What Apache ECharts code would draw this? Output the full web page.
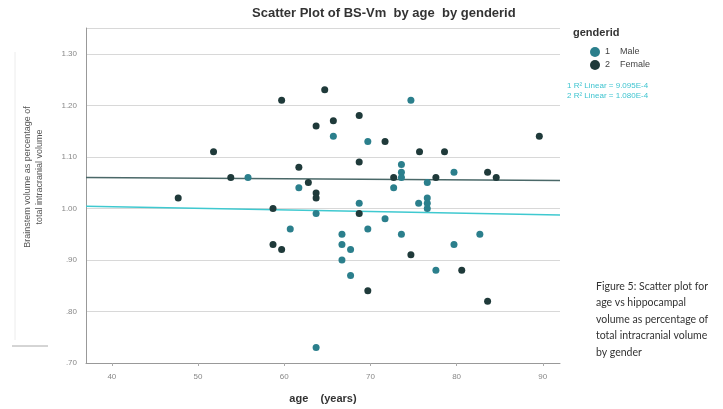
<!DOCTYPE html>
<html><head><meta charset="utf-8">
<script src="https://cdn.jsdelivr.net/npm/echarts@6/dist/echarts.min.js"></script>
<style>html,body{margin:0;padding:0;background:#fff}#c{width:723px;height:409px}</style>
</head><body><div id="c"></div>
<script>
// Data (age in years, brainstem volume %)
const maleAge = [55.8,61.7,60.7,63.7,65.7,66.7,66.7,66.7,67.7,67.7,63.7,68.7,69.7,69.7,71.7,72.7,73.6,73.6,73.6,73.6,74.7,75.6,76.6,76.6,76.6,76.6,77.6,79.7,79.7,82.7];
const maleVal = [1.06,1.04,0.96,0.99,1.14,0.95,0.93,0.90,0.92,0.87,0.73,1.01,1.13,0.96,0.98,1.04,1.085,1.07,1.06,0.95,1.21,1.01,1.05,1.02,1.01,1.00,0.88,1.07,0.93,0.95];
const femaleAge = [47.7,51.8,53.8,58.7,58.7,59.7,59.7,61.7,62.8,63.7,63.7,63.7,64.7,65.7,68.7,68.7,68.7,69.7,71.7,72.7,74.7,75.7,77.6,78.6,80.6,83.6,84.6,83.6,89.6];
const femaleVal = [1.02,1.11,1.06,1.00,0.93,0.92,1.21,1.08,1.05,1.03,1.02,1.16,1.23,1.17,1.18,1.09,0.99,0.84,1.13,1.06,0.91,1.11,1.06,1.11,0.88,1.07,1.06,0.82,1.14];
const maleFitX = [37, 92];
const maleFitY = [1.004, 0.987];
const femaleFitX = [37, 92];
const femaleFitY = [1.060, 1.054];
const xTicks = [40, 50, 60, 70, 80, 90];
const yTicks = [0.7, 0.8, 0.9, 1.0, 1.1, 1.2, 1.3];
const fitLabels = ['1 R\u00b2 Linear = 9.095E-4', '2 R\u00b2 Linear = 1.080E-4'];
const captionLines = ['Figure 5: Scatter plot for', 'age vs hippocampal', 'volume as percentage of', 'total intracranial volume', 'by gender'];
const yTitle = 'Brainstem volume as percentage of\ntotal intracranial volume';

const zip = (a, b) => a.map((v, i) => [v, b[i]]);
const maleColor = '#2b7f8c', femaleColor = '#1f3a3a';
const chart = echarts.init(document.getElementById('c'));
const fmtY = v => { const s = v.toFixed(2); return v < 1 ? s.slice(1) : s; };
chart.setOption({
  animation: false,
  textStyle: {fontFamily: 'Liberation Sans, Arial, sans-serif'},
  title: {text: 'Scatter Plot of BS-Vm  by age  by genderid', left: 247, top: 2,
    textStyle: {fontSize: 13, fontWeight: 'bold', color: '#333'}},
  grid: {left: 86, right: 163, top: 28, bottom: 44},
  xAxis: {type: 'value', min: 37, max: 92,
    name: 'age    (years)', nameLocation: 'middle', nameGap: 30,
    nameTextStyle: {fontSize: 11, fontWeight: 'bold', color: '#333'},
    axisLine: {lineStyle: {color: '#999'}},
    axisTick: {show: true, customValues: xTicks, length: 3, lineStyle: {color: '#aaa'}},
    axisLabel: {customValues: xTicks, fontSize: 8, color: '#888', margin: 10},
    splitLine: {show: false}},
  yAxis: {type: 'value', min: 0.7, max: 1.35,
    axisLine: {show: true, lineStyle: {color: '#999'}},
    axisTick: {show: false},
    axisLabel: {customValues: yTicks, fontSize: 8, color: '#888', margin: 9, formatter: fmtY},
    splitLine: {show: true, customValues: yTicks.slice(1), lineStyle: {color: '#d8d8d8', width: 1}}},
  legend: {orient: 'vertical', left: 585, top: 42, itemGap: 3, itemWidth: 10, itemHeight: 10,
    data: [{name: 'Male', icon: 'circle'}, {name: 'Female', icon: 'circle'}],
    formatter: n => n === 'Male' ? '1    Male' : '2    Female',
    textStyle: {fontSize: 9, color: '#444'}},
  graphic: [
    {type: 'text', left: 573, top: 27, style: {text: 'genderid', font: 'bold 11px Liberation Sans', fill: '#333'}},
    {type: 'text', left: 567, top: 82, style: {text: fitLabels[0], font: '8px Liberation Sans', fill: '#3fc4d0'}},
    {type: 'text', left: 567, top: 92, style: {text: fitLabels[1], font: '8px Liberation Sans', fill: '#3fc4d0'}},
    {type: 'text', left: 596, top: 278, style: {text: captionLines.join('\n'), font: '10.5px Lato', lineHeight: 16.5, fill: '#333'}},
    {type: 'text', x: 34, y: 177, rotation: Math.PI / 2,
      style: {text: yTitle, font: '9px Liberation Sans', lineHeight: 12, fill: '#555', align: 'center', verticalAlign: 'middle'}},
    {type: 'line', shape: {x1: 15, y1: 52, x2: 15, y2: 340}, style: {stroke: '#ececec', lineWidth: 1}},
    {type: 'line', shape: {x1: 12, y1: 346, x2: 48, y2: 346}, style: {stroke: '#aaa', lineWidth: 1}}
  ],
  series: [
    {name: 'Male', type: 'scatter', data: zip(maleAge, maleVal), symbolSize: 7,
      itemStyle: {color: maleColor, opacity: 1}, z: 3},
    {name: 'Female', type: 'scatter', data: zip(femaleAge, femaleVal), symbolSize: 7,
      itemStyle: {color: femaleColor, opacity: 1}, z: 3},
    {name: 'MaleFit', type: 'line', data: zip(maleFitX, maleFitY), symbol: 'none',
      lineStyle: {color: '#3fc9d0', width: 1.5}, z: 2, silent: true},
    {name: 'FemaleFit', type: 'line', data: zip(femaleFitX, femaleFitY), symbol: 'none',
      lineStyle: {color: '#4a6868', width: 1.5}, z: 2, silent: true}
  ]
});
</script></body></html>
